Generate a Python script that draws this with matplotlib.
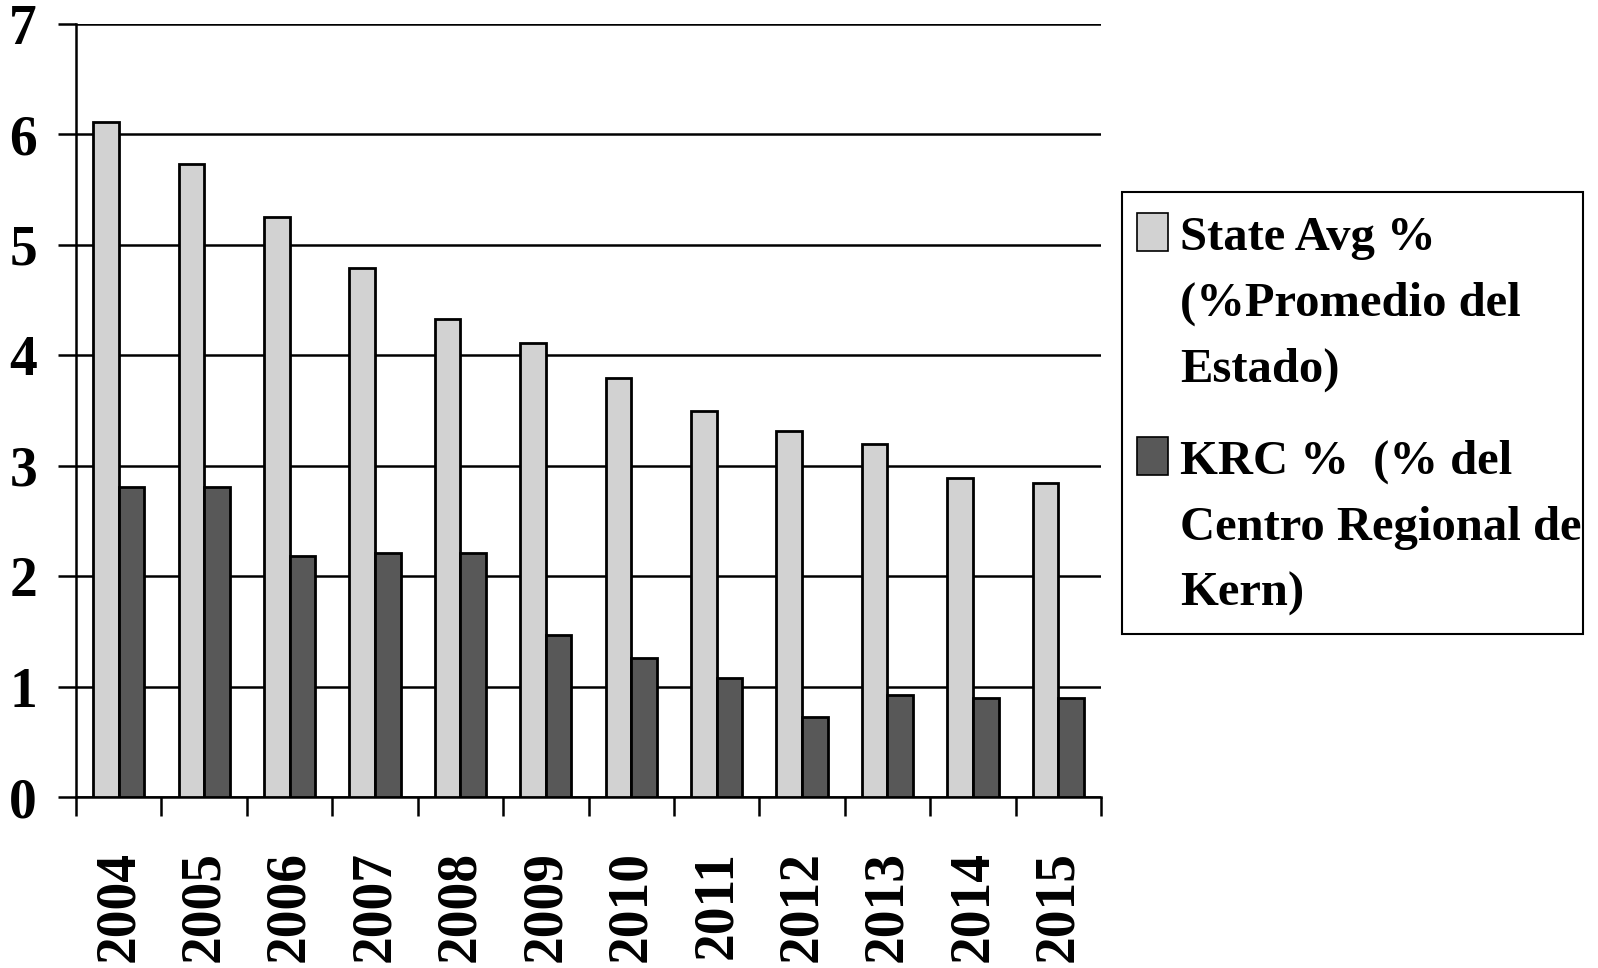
import numpy as np
import matplotlib.pyplot as plt
from matplotlib.patches import Rectangle

years = ['2004', '2005', '2006', '2007', '2008', '2009',
         '2010', '2011', '2012', '2013', '2014', '2015']
state_avg = [6.11, 5.73, 5.25, 4.79, 4.33, 4.11, 3.79, 3.50, 3.31, 3.20, 2.89, 2.84]
krc = [2.81, 2.81, 2.18, 2.21, 2.21, 1.47, 1.26, 1.08, 0.72, 0.92, 0.90, 0.90]

state_label = 'State Avg %\n(%Promedio del\nEstado)'
krc_label = 'KRC %  (% del\nCentro Regional de\nKern)'

light = '#d2d2d2'
dark = '#585858'

plt.rcParams['font.family'] = ['Liberation Serif', 'DejaVu Serif']
plt.rcParams['font.weight'] = 'bold'

W, H = 1598, 968
fig = plt.figure(figsize=(W / 100, H / 100), dpi=100)
ax = fig.add_axes([76 / W, 1 - 797 / H, (1101 - 76) / W, (797 - 24) / H])

x = np.arange(len(years))
bw = 0.3
ax.bar(x - bw / 2, state_avg, bw, color=light, edgecolor='black', linewidth=2, zorder=3)
ax.bar(x + bw / 2, krc, bw, color=dark, edgecolor='black', linewidth=2, zorder=3)

ax.set_xlim(-0.5, len(years) - 0.5)
ax.set_ylim(0, 7)
ax.set_yticks(range(8))
ax.yaxis.grid(True, color='black', linewidth=1.8, zorder=0)
ax.set_axisbelow(True)

# tick marks sit on the category boundaries, labels in the middle
ax.set_xticks(np.arange(-0.5, len(years)), labels=[])
ax.set_xticks(x, labels=years, minor=True)
ax.tick_params(axis='x', which='major', length=14, width=1.8, direction='out')
ax.tick_params(axis='x', which='minor', length=0, pad=39, labelsize=40, labelrotation=90)
ax.tick_params(axis='y', length=13, width=1.8, pad=15, labelsize=40)

for s in ['top', 'right']:
    ax.spines[s].set_visible(False)
for s in ['left', 'bottom']:
    ax.spines[s].set_linewidth(1.8)

# legend box on the right
def fx(px):
    return px / W

def fy(py):
    return 1 - py / H

fig.patches.append(Rectangle((fx(1122), fy(634)), fx(1583) - fx(1122), fy(192) - fy(634),
                             transform=fig.transFigure, facecolor='white',
                             edgecolor='black', linewidth=1.5))
for top, col, lab in [(213, light, state_label), (437, dark, krc_label)]:
    fig.patches.append(Rectangle((fx(1137), fy(top + 38)), fx(31), 38 / H,
                                 transform=fig.transFigure, facecolor=col,
                                 edgecolor='black', linewidth=1.2))
    fig.text(fx(1180), fy(top + 3), lab, fontsize=35, fontweight='bold',
             va='top', ha='left', linespacing=1.63)

fig.savefig('out.png', dpi=100)
